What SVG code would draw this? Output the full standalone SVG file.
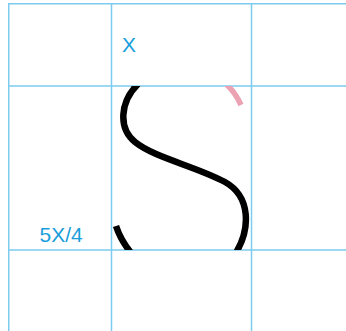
<svg xmlns="http://www.w3.org/2000/svg" width="346" height="331" viewBox="0 0 346 331">
<style>
.grid{stroke:#7dcbef;stroke-width:1.5;fill:none}
.lbl{font-family:"Liberation Sans",Arial,sans-serif;font-size:21px;fill:#1a9edb}
.ink{stroke:#000;stroke-width:6.5;fill:none;stroke-linecap:butt}
.pink{stroke:#eba3b3;stroke-width:5.5;fill:none}
</style>
<defs>
<clipPath id="cell"><rect x="111.5" y="86" width="140" height="164"/></clipPath>
</defs>
<rect width="346" height="331" fill="#fff"/>
<g id="grid">
<line class="grid" x1="9" y1="3.75" x2="346" y2="3.75"/>
<line class="grid" x1="9" y1="86" x2="346" y2="86"/>
<line class="grid" x1="9" y1="250" x2="346" y2="250"/>
<line class="grid" x1="8.75" y1="3" x2="8.75" y2="331"/>
<line class="grid" x1="111.5" y1="3" x2="111.5" y2="331"/>
<line class="grid" x1="251.5" y1="3" x2="251.5" y2="331"/>
</g>
<g id="labels">
<text class="lbl" x="122" y="51.5">X</text>
<text class="lbl" x="39.5" y="241.5">5X/4</text>
</g>
<g id="strokes" clip-path="url(#cell)">
<path class="pink" d="M226,84 Q235,92 241,105"/>
<path class="ink" d="M138,84 C120,102 118,128 135,142 C155,158 195,166 225,182 C250,196 252,228 234,256"/>
<path class="ink" d="M116,226 Q121,241 132,254"/>
</g>
</svg>
